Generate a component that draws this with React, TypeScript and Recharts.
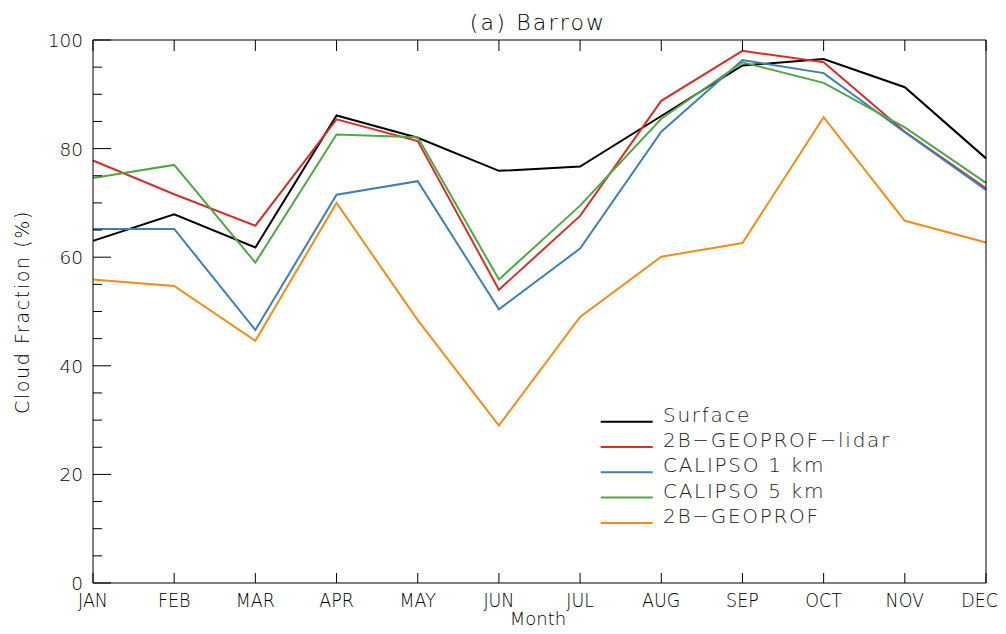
import { LineChart, Line, XAxis, YAxis, Label } from "recharts";

const months = ["JAN", "FEB", "MAR", "APR", "MAY", "JUN", "JUL", "AUG", "SEP", "OCT", "NOV", "DEC"];
const surface = [63.0, 67.9, 61.8, 86.1, 82.0, 75.9, 76.7, 86.0, 95.3, 96.5, 91.3, 78.2];
const geoprofLidar = [77.8, 71.6, 65.8, 85.4, 81.4, 54.0, 67.6, 88.8, 98.0, 95.9, 83.1, 72.7];
const calipso1 = [65.2, 65.2, 46.6, 71.5, 74.0, 50.4, 61.6, 83.1, 96.3, 93.9, 83.0, 72.4];
const calipso5 = [74.6, 77.0, 59.0, 82.6, 82.1, 55.9, 69.5, 85.5, 95.9, 92.1, 83.9, 73.7];
const geoprof = [55.9, 54.7, 44.6, 70.0, 48.4, 29.0, 49.0, 60.1, 62.6, 85.8, 66.7, 62.7];
const yTicks = [0, 5, 10, 15, 20, 25, 30, 35, 40, 45, 50, 55, 60, 65, 70, 75, 80, 85, 90, 95, 100];

const series = [
  { key: "surface", name: "Surface", color: "#000000", values: surface },
  { key: "lidar", name: "2B\u2212GEOPROF\u2212lidar", color: "#d0312d", values: geoprofLidar },
  { key: "cal1", name: "CALIPSO 1 km", color: "#3f7fb6", values: calipso1 },
  { key: "cal5", name: "CALIPSO 5 km", color: "#4fa844", values: calipso5 },
  { key: "geoprof", name: "2B\u2212GEOPROF", color: "#f08c1a", values: geoprof },
];

const data = months.map((m, i) => {
  const row: Record<string, number | string> = { idx: i, month: m };
  series.forEach((s) => (row[s.key] = s.values[i]));
  return row;
});

const monthIdx = months.map((_, i) => i);
const font = "'DejaVu Sans', sans-serif";
const ink = "#000";

// eslint-disable-next-line @typescript-eslint/no-explicit-any
function LeftTick(props: any) {
  const { x, y, payload } = props;
  const major = payload.value % 20 === 0;
  return (
    <g>
      <line x1={x} x2={x + (major ? 18 : 9)} y1={y} y2={y} stroke="#000" />
      {major && (
        <text x={x - 10} y={y + 7} textAnchor="end" fontSize={18.5} fontFamily={font} fontWeight={300} fill={ink}>
          {payload.value}
        </text>
      )}
    </g>
  );
}

// eslint-disable-next-line @typescript-eslint/no-explicit-any
function RightTick(props: any) {
  const { x, y, payload } = props;
  const major = payload.value % 20 === 0;
  return <line x1={x} x2={x - (major ? 18 : 9)} y1={y} y2={y} stroke="#000" />;
}

// eslint-disable-next-line @typescript-eslint/no-explicit-any
function BottomTick(props: any) {
  const { x, y, payload } = props;
  // last label kept inside the frame
  const last = payload.value === months.length - 1;
  const tx = last ? x + 12 : x;
  return (
    <g>
      <line x1={x} x2={x} y1={y} y2={y - 10} stroke="#000" />
      <text
        x={tx}
        y={y + 24}
        textAnchor={last ? "end" : "middle"}
        fontSize={19}
        fontFamily={font}
        fontWeight={300}
        fill={ink}
        transform={`translate(${tx} 0) scale(0.92 1) translate(${-tx} 0)`}
      >
        {months[payload.value]}
      </text>
    </g>
  );
}

// eslint-disable-next-line @typescript-eslint/no-explicit-any
function TopTick(props: any) {
  const { x, y } = props;
  return <line x1={x} x2={x} y1={y} y2={y + 11} stroke="#000" />;
}

function LegendBox() {
  return (
    <svg width={400} height={150} style={{ position: "absolute", left: 572, top: 382 }}>
      {series.map((s, i) => {
        const y = 31.7 + i * 25.3;
        return (
          <g key={s.key}>
            <line x1={20.7} x2={72.7} y1={y} y2={y} stroke={s.color} strokeWidth={2} />
            <text x={83} y={y} fontSize={20} fontFamily={font} fontWeight={300} letterSpacing={1.7} fill="#222">
              {s.name}
            </text>
          </g>
        );
      })}
    </svg>
  );
}

export default function App() {
  return (
    <div style={{ position: "relative", width: 998, height: 618 }}>
      <div
        style={{
          position: "absolute",
          left: 0,
          top: 2,
          width: 998,
          paddingLeft: 62,
          boxSizing: "border-box",
          textAlign: "center",
          fontFamily: font,
          fontWeight: 300,
          fontSize: 22,
          letterSpacing: 2.2,
          color: ink,
        }}
      >
        (a) Barrow
      </div>
      <LineChart width={998} height={618} data={data} margin={{ top: 30, right: 8, bottom: 0, left: 0 }}>
        <XAxis
          dataKey="idx"
          type="number"
          domain={[0, 11]}
          ticks={monthIdx}
          height={43}
          axisLine={{ stroke: "#000" }}
          tickLine={false}
          tickSize={0}
          tickMargin={0}
          tick={<BottomTick />}
          interval={0}
        />
        <XAxis
          xAxisId="top"
          orientation="top"
          dataKey="idx"
          type="number"
          domain={[0, 11]}
          ticks={monthIdx}
          height={2}
          axisLine={{ stroke: "#000" }}
          tickLine={false}
          tickSize={0}
          tickMargin={0}
          tick={<TopTick />}
          interval={0}
        />
        <YAxis
          domain={[0, 100]}
          ticks={yTicks}
          width={85}
          axisLine={{ stroke: "#000" }}
          tickLine={false}
          tickSize={0}
          tickMargin={0}
          tick={<LeftTick />}
          interval={0}
        >
          <Label
            content={() => (
              <text
                x={21}
                y={304}
                textAnchor="middle"
                fontSize={19}
                fontFamily={font}
                fontWeight={300}
                letterSpacing={1.6}
                fill={ink}
                transform="rotate(-90 21 304)"
              >
                Cloud Fraction (%)
              </text>
            )}
          />
        </YAxis>
        <YAxis
          yAxisId="r"
          orientation="right"
          domain={[0, 100]}
          ticks={yTicks}
          width={12}
          axisLine={{ stroke: "#000" }}
          tickLine={false}
          tickSize={0}
          tickMargin={0}
          tick={<RightTick />}
          interval={0}
        />
        {series.map((s) => (
          <Line
            key={s.key}
            dataKey={s.key}
            name={s.name}
            type="linear"
            stroke={s.color}
            strokeWidth={2}
            dot={false}
            activeDot={false}
            isAnimationActive={false}
          />
        ))}
      </LineChart>
      <div
        style={{
          position: "absolute",
          left: 0,
          top: 601,
          width: 998,
          paddingLeft: 62,
          boxSizing: "border-box",
          textAlign: "center",
          fontFamily: font,
          fontWeight: 300,
          fontSize: 18,
          lineHeight: "20px",
          color: ink,
        }}
      >
        Month
      </div>
      <LegendBox />
    </div>
  );
}
